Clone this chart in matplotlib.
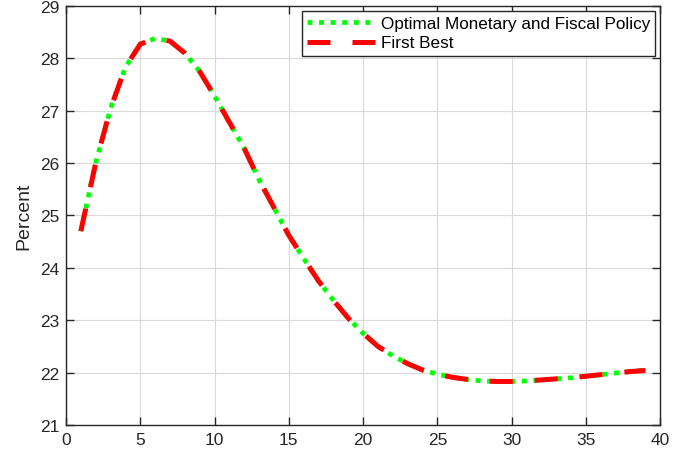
import matplotlib
matplotlib.use("Agg")
import matplotlib.pyplot as plt
import numpy as np

plt.rcParams['font.family'] = ['Liberation Sans', 'DejaVu Sans']

horizon = list(range(1, 40))
optimal = [24.70, 26.00, 27.04, 27.83, 28.27, 28.38, 28.33, 28.10, 27.75, 27.28,
           26.78, 26.28, 25.68, 25.15, 24.62, 24.18, 23.75, 23.38, 23.04, 22.75,
           22.50, 22.32, 22.17, 22.05, 21.97, 21.91, 21.87, 21.84, 21.83, 21.83,
           21.84, 21.86, 21.88, 21.90, 21.93, 21.96, 21.99, 22.02, 22.05]
first_best = [24.70, 26.00, 27.04, 27.83, 28.27, 28.38, 28.33, 28.10, 27.75, 27.28,
              26.78, 26.28, 25.68, 25.15, 24.62, 24.18, 23.75, 23.38, 23.04, 22.75,
              22.50, 22.32, 22.17, 22.05, 21.97, 21.91, 21.87, 21.84, 21.83, 21.83,
              21.84, 21.86, 21.88, 21.90, 21.93, 21.96, 21.99, 22.02, 22.04]

fig = plt.figure(figsize=(6.73, 4.64), dpi=100)
ax = fig.add_axes([0.098, 0.082, 0.883, 0.903])

ax.plot(horizon, optimal, color=(0, 1, 0), linestyle=(0, (1.05, 1.4)), linewidth=3.4,
        label='Optimal Monetary and Fiscal Policy', dash_capstyle='butt')
ax.plot(horizon, first_best, color=(1, 0, 0), linestyle=(0, (4.6, 4.4)), linewidth=3.6,
        label='First Best', dash_capstyle='butt')

ax.set_xlim(0, 40)
ax.set_ylim(21, 29)
ax.set_xticks(range(0, 41, 5))
ax.set_yticks(range(21, 30))
ax.grid(True, color='#d9d9d9', linewidth=0.8)
ax.set_axisbelow(True)
ax.tick_params(direction='in', top=True, right=True, length=6, width=1, labelsize=12.5,
               colors='#262626', pad=5)
for s in ax.spines.values():
    s.set_color('#262626')
    s.set_linewidth(1)
ax.set_ylabel('Percent', fontsize=14, color='#262626', labelpad=5)

leg = ax.legend(loc='upper right', fontsize=12.3, frameon=True, fancybox=False,
                edgecolor='#262626', framealpha=1, borderaxespad=0.3,
                handlelength=4.0, handletextpad=0.3, labelspacing=0.25, borderpad=0.3)
leg.get_frame().set_linewidth(1)

fig.savefig('out.png', dpi=100)
